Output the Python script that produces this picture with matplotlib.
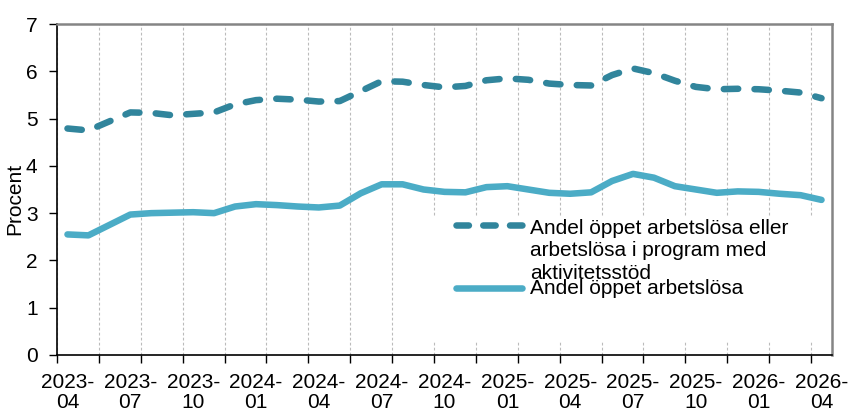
import matplotlib
matplotlib.use('Agg')
import matplotlib.pyplot as plt
from matplotlib.lines import Line2D
from matplotlib.patches import Rectangle
import pandas as pd

# ---- data ----
months = [str(p) for p in pd.period_range('2023-04', '2026-04', freq='M')]
label_months = months[::3]
open_or_program = [4.79, 4.75, 4.94, 5.13, 5.12, 5.07, 5.10, 5.13, 5.30, 5.39,
                   5.42, 5.40, 5.36, 5.37, 5.58, 5.79, 5.78, 5.71, 5.66, 5.69,
                   5.81, 5.85, 5.82, 5.74, 5.71, 5.70, 5.92, 6.06, 5.96, 5.80,
                   5.67, 5.62, 5.63, 5.62, 5.59, 5.55, 5.43]
open_only = [2.55, 2.53, 2.75, 2.97, 3.00, 3.01, 3.02, 3.00, 3.14, 3.19,
             3.17, 3.14, 3.12, 3.16, 3.42, 3.61, 3.61, 3.50, 3.45, 3.44,
             3.55, 3.57, 3.50, 3.43, 3.41, 3.44, 3.68, 3.83, 3.75, 3.57,
             3.50, 3.43, 3.46, 3.45, 3.41, 3.38, 3.28]
label_dashed = "Andel öppet arbetslösa eller\narbetslösa i program med\naktivitetsstöd"
label_solid = "Andel öppet arbetslösa"
y_ticks = [0, 1, 2, 3, 4, 5, 6, 7]

# ---- style ----
plt.rcParams['font.family'] = ['Liberation Sans', 'DejaVu Sans']
FS = 15
C_DARK = '#31859C'
C_LIGHT = '#4BACC6'
LW = 4.7

fig = plt.figure(figsize=(8.48, 4.12), dpi=100)
ax = fig.add_axes([57/848, 57/412, 775/848, 331/412])

x = list(range(len(months)))
ax.plot(x, open_or_program, color=C_DARK, lw=LW, dashes=(2.2, 2.5),
        dash_capstyle='round', solid_capstyle='round', zorder=3)
ax.plot(x, open_only, color=C_LIGHT, lw=LW, solid_capstyle='round',
        solid_joinstyle='round', zorder=3)

ax.set_xlim(-0.5, len(months) - 0.5)
ax.set_ylim(0, 7)
ax.set_yticks(y_ticks)
ax.set_yticklabels([str(v) for v in y_ticks], fontsize=FS)

# major ticks at category boundaries every 2 months (ticks + grid), labels at minor ticks
ax.set_xticks([i - 0.5 for i in range(0, len(months), 2)])
ax.set_xticklabels([])
ax.set_xticks(list(range(0, len(months), 3)), minor=True)
ax.set_xticklabels([m.replace('-', '-\n') for m in label_months], minor=True,
                   fontsize=FS, linespacing=1.05)
ax.tick_params(axis='x', which='major', length=6, width=1, direction='out', color='black')
ax.tick_params(axis='x', which='minor', length=0, pad=13)
ax.tick_params(axis='y', length=5.5, width=1, direction='out', pad=8.5)

ax.set_axisbelow(True)
ax.xaxis.grid(True, which='major', color='#BBBBBB', linestyle=(0, (2.5, 2.0)), lw=0.8)
ax.yaxis.grid(False)

for s in ('top', 'right'):
    ax.spines[s].set_color('#858585')
    ax.spines[s].set_linewidth(1.8)
for s in ('left', 'bottom'):
    ax.spines[s].set_color('black')
    ax.spines[s].set_linewidth(1.2)

ax.set_ylabel('Procent', fontsize=FS)
ax.yaxis.set_label_coords(-0.042, 0.47)

# ---- legend (white box, overlapping entries as in the original) ----
ax.add_patch(Rectangle((0.455, 0.039), 0.545, 0.378, transform=ax.transAxes,
                       facecolor='white', edgecolor='none', zorder=1))
ax.add_line(Line2D([0.515, 0.600], [0.3927, 0.3927], transform=ax.transAxes,
                   color=C_DARK, lw=LW, dashes=(1.9, 2.2), dash_capstyle='round', zorder=4))
ax.add_line(Line2D([0.515, 0.600], [0.2024, 0.2024], transform=ax.transAxes,
                   color=C_LIGHT, lw=LW, solid_capstyle='round', zorder=4))
ax.text(0.6103, 0.2287, label_dashed, transform=ax.transAxes, fontsize=FS,
        va='baseline', ha='left', linespacing=1.26, zorder=5)
ax.text(0.6103, 0.1843, label_solid, transform=ax.transAxes, fontsize=FS,
        va='baseline', ha='left', zorder=5)

fig.savefig('out.png', dpi=100)
